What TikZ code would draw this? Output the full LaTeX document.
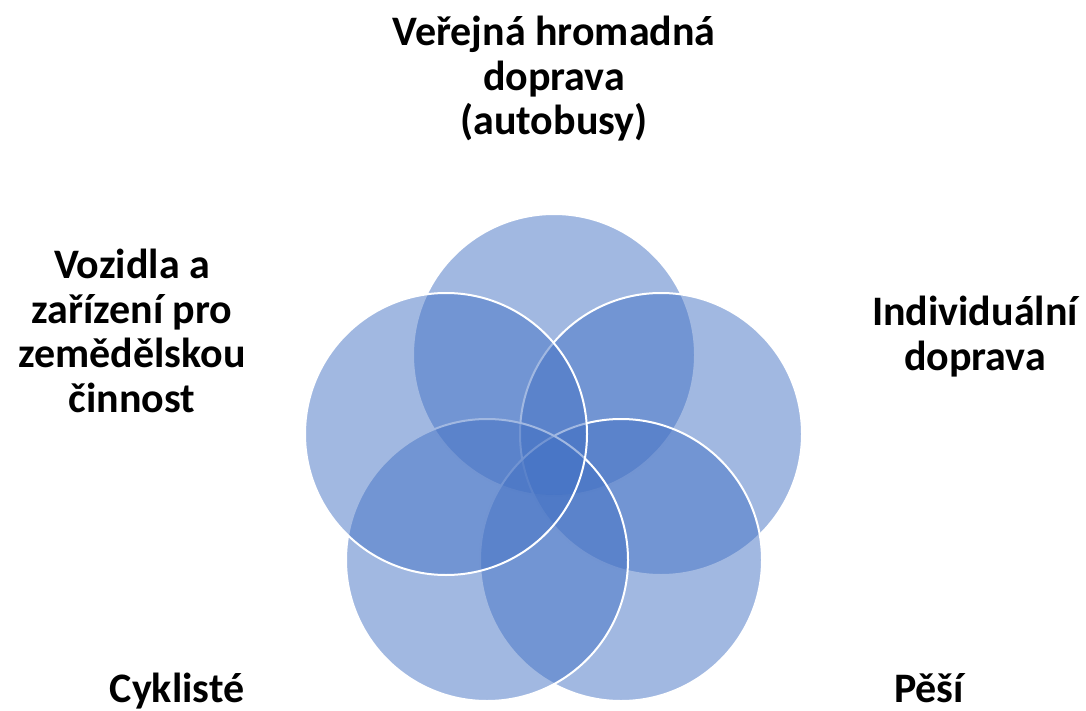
\documentclass[tikz,border=0pt]{standalone}
\usepackage{fontspec}
\setmainfont{Carlito}
\definecolor{vennblue}{RGB}{68,114,196}
\begin{document}
\begin{tikzpicture}[x=1pt,y=-1pt,
  venn/.style={circle, minimum size=282pt, inner sep=0pt, outer sep=0pt,
    fill=vennblue, fill opacity=0.5, draw=white, draw opacity=1, line width=2pt},
  lbl/.style={align=center, inner sep=0pt, font=\fontsize{42}{44.5}\selectfont\bfseries, text=black}]
\useasboundingbox (0,0) rectangle (1086,711);
\node[venn] (c1) at (554,355) {};
\node[venn] (c2) at (661,434) {};
\node[venn] (c3) at (621,560) {};
\node[venn] (c4) at (487,560) {};
\node[venn] (c5) at (446,434) {};
\node[lbl, anchor=base] (t1) at (554,135) {Veřejná hromadná\\doprava\\(autobusy)};
\node[lbl, anchor=base] (t2) at (975,370) {Individuální\\doprava};
\node[lbl, anchor=base, text depth=0pt] (t3) at (929,702) {Pěší};
\node[lbl, anchor=base, text depth=0pt] (t4) at (177,702) {Cyklisté};
\node[lbl, anchor=base] (t5) at (132,412) {Vozidla a\\zařízení pro\\zemědělskou\\činnost};
\end{tikzpicture}
\end{document}
